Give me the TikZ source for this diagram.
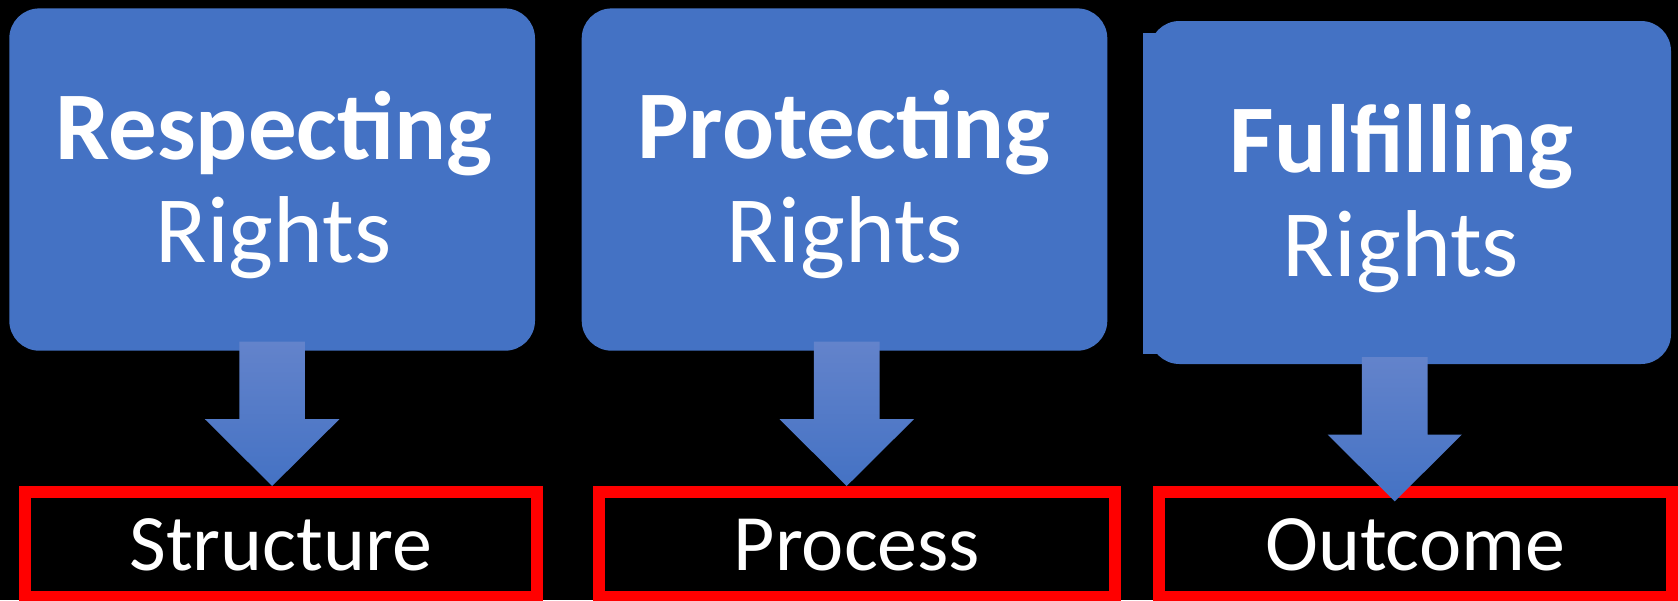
\documentclass[tikz,border=0pt]{standalone}
\usepackage{fontspec}
\setmainfont{Carlito}
\usetikzlibrary{calc}
\definecolor{boxblue}{HTML}{4472C4}
\definecolor{arrowtop}{HTML}{6383CB}
\definecolor{framered}{HTML}{FF0000}
\tikzset{
  bluebox/.style={fill=boxblue, rounded corners=30pt, inner sep=0pt, outer sep=0pt},
  redbox/.style={draw=framered, line width=12pt, inner sep=0pt, outer sep=0pt},
  boldline/.style={text=white, font=\fontsize{97}{97}\selectfont\bfseries, anchor=base, inner sep=0pt},
  regline/.style={text=white, font=\fontsize{95}{95}\selectfont, anchor=base, inner sep=0pt},
  botline/.style={text=white, font=\fontsize{80}{80}\selectfont, anchor=base, inner sep=0pt},
  arrowfill/.style={top color=arrowtop, bottom color=boxblue}
}
\newcommand{\bigdownarrow}[1]{%
  \path[arrowfill] ($(#1)+(-32.8,0)$) -- ($(#1)+(32.8,0)$) -- ($(#1)+(32.8,77.5)$)
    -- ($(#1)+(67.2,77.5)$) -- ($(#1)+(0,144.3)$) -- ($(#1)+(-67.2,77.5)$)
    -- ($(#1)+(-32.8,77.5)$) -- cycle;}
\begin{document}
\begin{tikzpicture}[x=1pt,y=-1pt]
\useasboundingbox (0,0) rectangle (1678,600);
\fill[black] (0,0) rectangle (1678,600);
% blue boxes
\node[bluebox, minimum width=525.7pt, minimum height=342.3pt] (b1) at (272.15,179.55) {};
\node[bluebox, minimum width=525.6pt, minimum height=342.3pt] (b2) at (844.5,179.55) {};
\node[bluebox, minimum width=521.5pt, minimum height=343pt] (b3) at (1410.25,192.5) {};
\fill[boxblue] (1143.3,32.6) rectangle (1165,354);
% texts in blue boxes
\node[boldline] (t1a) at (273.7,159.3) {Respecting};
\node[regline]  (t1b) at (273.5,262.7) {Rights};
\node[boldline] (t2a) at (844,158.8) {Protecting};
\node[regline]  (t2b) at (845,262.7) {Rights};
\node[boldline] (t3a) at (1401.6,172.4) {Fulfilling};
\node[regline]  (t3b) at (1401,276) {Rights};
% red boxes
\node[redbox, minimum width=511.5pt, minimum height=105pt] (r1) at (280.75,544.5) {};
\node[redbox, minimum width=515.7pt, minimum height=105pt] (r2) at (857.15,544.5) {};
\node[redbox, minimum width=513.5pt, minimum height=105pt] (r3) at (1415.25,544.5) {};
\node[botline] (s1) at (280.7,570) {Structure};
\node[botline] (s2) at (857,570) {Process};
\node[botline] (s3) at (1415,570) {Outcome};
% arrows from boxes to red boxes
\coordinate (a1) at ($(b1.south)+(0,-9)$);
\coordinate (a2) at ($(b2.south)+(2.2,-9)$);
\coordinate (a3) at ($(b3.south)+(-15.5,-7)$);
\bigdownarrow{a1}
\bigdownarrow{a2}
\bigdownarrow{a3}
\end{tikzpicture}
\end{document}
